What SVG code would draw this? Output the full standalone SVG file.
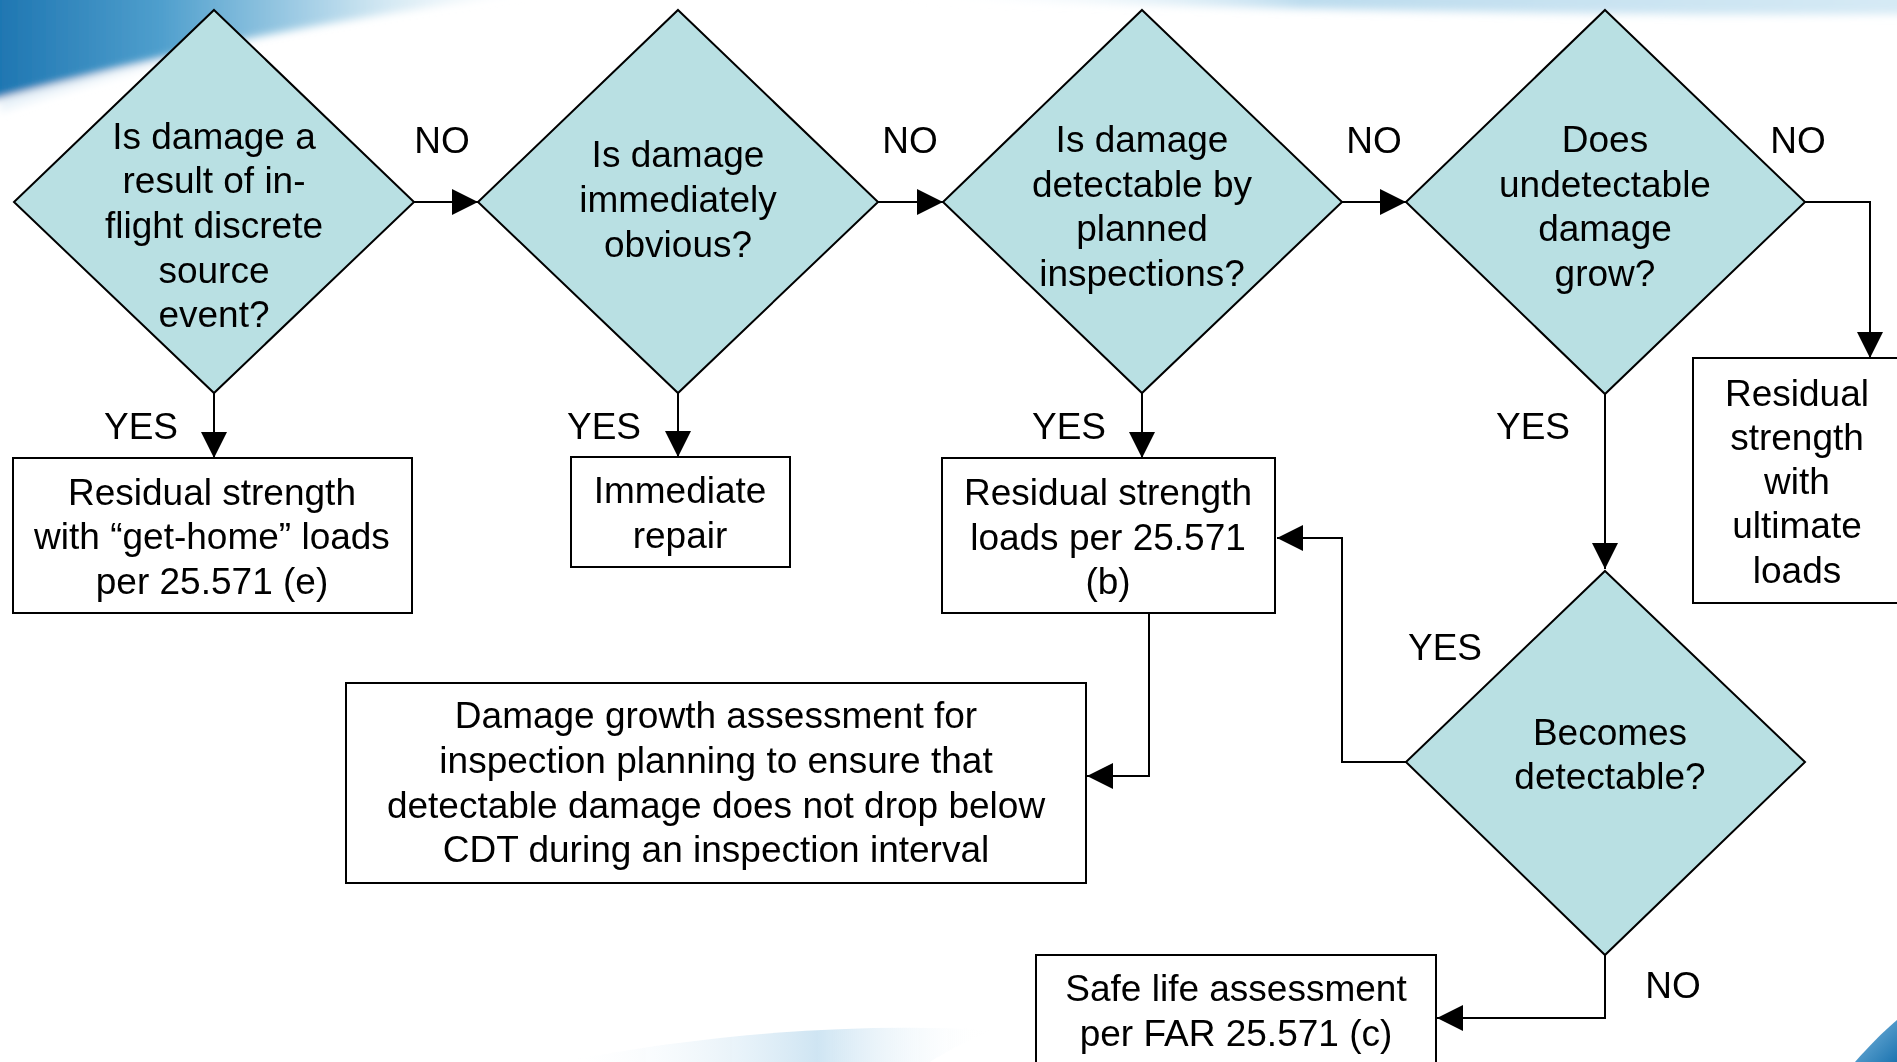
<svg xmlns="http://www.w3.org/2000/svg" width="1897" height="1062" viewBox="0 0 1897 1062">
<defs>
<style>
.d{fill:#b9e0e3;stroke:#000;stroke-width:2}
.b{fill:#fff;stroke:#000;stroke-width:2}
.c{fill:none;stroke:#000;stroke-width:2}
text{font-family:"Liberation Sans",Arial,sans-serif;font-size:37px;fill:#000}
.m{text-anchor:middle}
</style>
<marker id="ah" markerUnits="userSpaceOnUse" markerWidth="28" markerHeight="28" refX="26" refY="13" orient="auto">
<path d="M0,0 L26,13 L0,26 Z" fill="#000"/>
</marker>
<filter id="soft" x="-0.2" y="-0.5" width="1.4" height="2">
<feGaussianBlur stdDeviation="4"/>
</filter>
<linearGradient id="tl" x1="0" y1="0" x2="1" y2="0">
<stop offset="0" stop-color="#1c74b0"/>
<stop offset="0.3" stop-color="#4f9fcd"/>
<stop offset="0.6" stop-color="#b3d7ea"/>
<stop offset="1" stop-color="#ffffff" stop-opacity="0"/>
</linearGradient>
<linearGradient id="tr" x1="0" y1="0" x2="1" y2="0">
<stop offset="0" stop-color="#ffffff" stop-opacity="0"/>
<stop offset="0.4" stop-color="#bcdcee"/>
<stop offset="1" stop-color="#d6eaf5"/>
</linearGradient>
<linearGradient id="bm" x1="0" y1="0" x2="1" y2="0">
<stop offset="0" stop-color="#ffffff" stop-opacity="0"/>
<stop offset="0.6" stop-color="#cfe5f3"/>
<stop offset="1" stop-color="#ffffff" stop-opacity="0"/>
</linearGradient>
<linearGradient id="br" x1="0" y1="0" x2="1" y2="1">
<stop offset="0" stop-color="#7fb9df"/>
<stop offset="1" stop-color="#1c74b0"/>
</linearGradient>
</defs>
<rect x="0" y="0" width="1897" height="1062" fill="#fff"/>
<g id="background">
<g filter="url(#soft)">
<path d="M-10,-10 H560 C430,6 300,25 160,58 C100,72 50,85 -10,100 Z" fill="url(#tl)"/>
<path d="M0,100 C60,84 130,68 200,54 C130,72 60,92 0,112 Z" fill="#e3eff7" opacity="0.8"/>
<path d="M900,-10 H1907 V14 C1600,16 1300,10 900,-2 Z" fill="url(#tr)"/>
</g>
<path d="M560,1062 C700,1035 850,1022 990,1030 C960,1045 940,1055 930,1062 Z" fill="url(#bm)"/>
<path d="M1855,1062 C1870,1045 1885,1030 1897,1020 V1062 Z" fill="url(#br)"/>
</g>
<g id="connectors">
<path class="c" d="M414,202 H478" marker-end="url(#ah)"/>
<path class="c" d="M878,202 H943" marker-end="url(#ah)"/>
<path class="c" d="M1342,202 H1406" marker-end="url(#ah)"/>
<path class="c" d="M1805,202 H1870 V358" marker-end="url(#ah)"/>
<path class="c" d="M214,393 V458" marker-end="url(#ah)"/>
<path class="c" d="M678,393 V457" marker-end="url(#ah)"/>
<path class="c" d="M1142,393 V458" marker-end="url(#ah)"/>
<path class="c" d="M1605,394 V569" marker-end="url(#ah)"/>
<path class="c" d="M1406,762 H1342 V538 H1277" marker-end="url(#ah)"/>
<path class="c" d="M1149,613 V776 H1087" marker-end="url(#ah)"/>
<path class="c" d="M1605,955 V1018 H1437" marker-end="url(#ah)"/>
</g>
<g id="labels">
<text class="m" x="442" y="153">NO</text>
<text class="m" x="910" y="153">NO</text>
<text class="m" x="1374" y="153">NO</text>
<text class="m" x="1798" y="153">NO</text>
<text class="m" x="141" y="439">YES</text>
<text class="m" x="604" y="439">YES</text>
<text class="m" x="1069" y="439">YES</text>
<text class="m" x="1533" y="439">YES</text>
<text class="m" x="1445" y="660">YES</text>
<text class="m" x="1673" y="998">NO</text>
</g>
<g id="d1">
<polygon class="d" points="214,10 414,202 214,393 14,202"/>
<text class="m" x="214" y="149">Is damage a</text>
<text class="m" x="214" y="193">result of in-</text>
<text class="m" x="214" y="238">flight discrete</text>
<text class="m" x="214" y="283">source</text>
<text class="m" x="214" y="327">event?</text>
</g>
<g id="d2">
<polygon class="d" points="678,10 878,202 678,393 478,202"/>
<text class="m" x="678" y="167">Is damage</text>
<text class="m" x="678" y="212">immediately</text>
<text class="m" x="678" y="257">obvious?</text>
</g>
<g id="d3">
<polygon class="d" points="1142,10 1342,202 1142,393 943,202"/>
<text class="m" x="1142" y="152">Is damage</text>
<text class="m" x="1142" y="197">detectable by</text>
<text class="m" x="1142" y="241">planned</text>
<text class="m" x="1142" y="286">inspections?</text>
</g>
<g id="d4">
<polygon class="d" points="1605,10 1805,202 1605,394 1406,202"/>
<text class="m" x="1605" y="152">Does</text>
<text class="m" x="1605" y="197">undetectable</text>
<text class="m" x="1605" y="241">damage</text>
<text class="m" x="1605" y="286">grow?</text>
</g>
<g id="d5">
<polygon class="d" points="1605,571 1805,762 1605,955 1406,762"/>
<text class="m" x="1610" y="745">Becomes</text>
<text class="m" x="1610" y="789">detectable?</text>
</g>
<g id="b1">
<rect class="b" x="13" y="458" width="399" height="155"/>
<text class="m" x="212" y="505">Residual strength</text>
<text class="m" x="212" y="549">with “get-home” loads</text>
<text class="m" x="212" y="594">per 25.571 (e)</text>
</g>
<g id="b2">
<rect class="b" x="571" y="457" width="219" height="110"/>
<text class="m" x="680" y="503">Immediate</text>
<text class="m" x="680" y="548">repair</text>
</g>
<g id="b3">
<rect class="b" x="942" y="458" width="333" height="155"/>
<text class="m" x="1108" y="505">Residual strength</text>
<text class="m" x="1108" y="550">loads per 25.571</text>
<text class="m" x="1108" y="594">(b)</text>
</g>
<g id="b4">
<rect class="b" x="346" y="683" width="740" height="200"/>
<text class="m" x="716" y="728">Damage growth assessment for</text>
<text class="m" x="716" y="773">inspection planning to ensure that</text>
<text class="m" x="716" y="818">detectable damage does not drop below</text>
<text class="m" x="716" y="862">CDT during an inspection interval</text>
</g>
<g id="b5">
<rect class="b" x="1693" y="358" width="210" height="245"/>
<text class="m" x="1797" y="406">Residual</text>
<text class="m" x="1797" y="450">strength</text>
<text class="m" x="1797" y="494">with</text>
<text class="m" x="1797" y="538">ultimate</text>
<text class="m" x="1797" y="583">loads</text>
</g>
<g id="b6">
<rect class="b" x="1036" y="955" width="400" height="120"/>
<text class="m" x="1236" y="1001">Safe life assessment</text>
<text class="m" x="1236" y="1046">per FAR 25.571 (c)</text>
</g>
</svg>
